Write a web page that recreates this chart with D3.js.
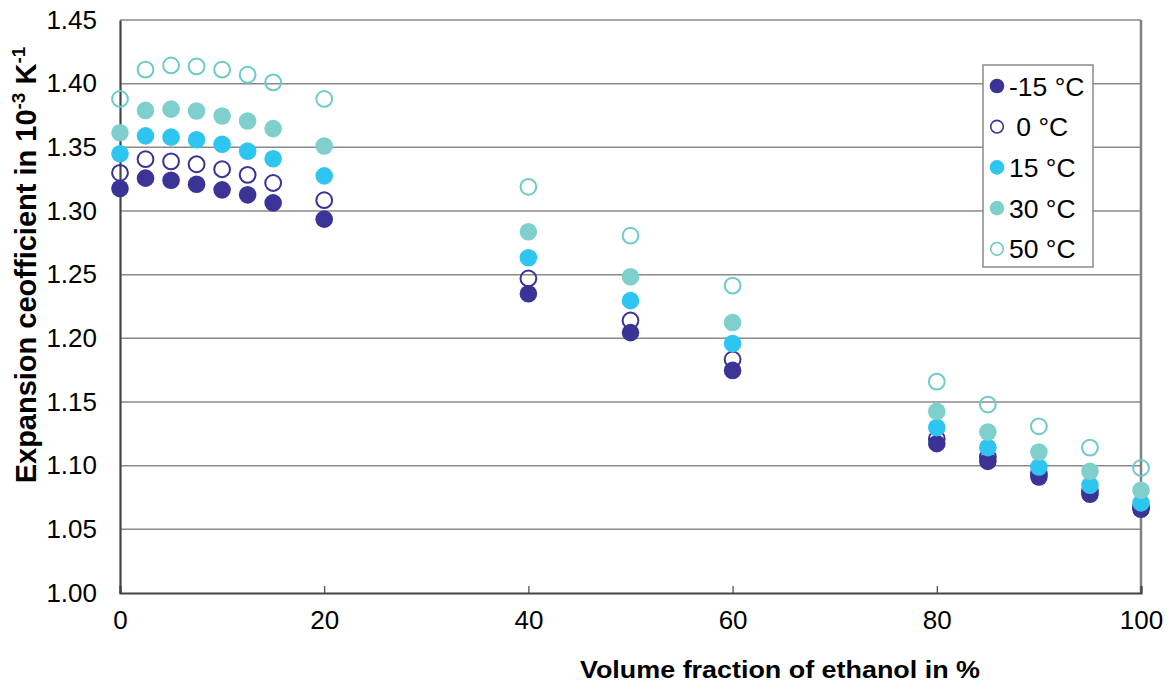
<!DOCTYPE html>
<html><head><meta charset="utf-8">
<script src="https://cdn.jsdelivr.net/npm/d3@7"></script>
<style>body{margin:0;background:#fff}svg{display:block}text{font-family:"Liberation Sans",Arial,sans-serif;fill:#000}</style>
</head><body>
<svg id="c" width="1171" height="684"></svg>
<script>
const xValues = [0, 2.5, 5, 7.5, 10, 12.5, 15, 20, 40, 50, 60, 80, 85, 90, 95, 100];
const tMinus15 = [1.3176,1.3258,1.3242,1.3210,1.3166,1.3127,1.3064,1.2936,1.2350,1.2045,1.1748,1.1173,1.1034,1.0911,1.0776,1.0658];
const t0 =       [1.3300,1.3407,1.3390,1.3367,1.3328,1.3284,1.3220,1.3085,1.2470,1.2140,1.1834,1.1212,1.1068,1.0938,1.0799,1.0676];
const t15 =      [1.3450,1.3590,1.3580,1.3560,1.3524,1.3470,1.3410,1.3276,1.2633,1.2296,1.1960,1.1299,1.1142,1.0990,1.0846,1.0708];
const t30 =      [1.3615,1.3790,1.3800,1.3785,1.3746,1.3707,1.3647,1.3510,1.2837,1.2484,1.2124,1.1426,1.1264,1.1107,1.0956,1.0807];
const t50 =      [1.3880,1.4110,1.4143,1.4136,1.4110,1.4070,1.4010,1.3880,1.3190,1.2806,1.2414,1.1660,1.1480,1.1309,1.1142,1.0982];
const seriesNames = ["-15 °C", " 0 °C", "15 °C", "30 °C", "50 °C"];
const xTicks = [0, 20, 40, 60, 80, 100];
const yTicks = [1.00,1.05,1.10,1.15,1.20,1.25,1.30,1.35,1.40,1.45];

const series = [
  {name: seriesNames[0], values: tMinus15, color: "#3b3396", filled: true},
  {name: seriesNames[1], values: t0, color: "#3b3396", filled: false},
  {name: seriesNames[2], values: t15, color: "#2ec5f0", filled: true},
  {name: seriesNames[3], values: t30, color: "#7fcfcc", filled: true},
  {name: seriesNames[4], values: t50, color: "#6ccbca", filled: false}
];

const svg = d3.select("#c");
const L = 120, R = 1141, T = 20, B = 593;
const x = d3.scaleLinear().domain([0, 100]).range([L, R]);
const y = d3.scaleLinear().domain([1.00, 1.45]).range([B, T]);

// gridlines
svg.append("g").selectAll("line").data(yTicks.slice(1)).join("line")
  .attr("x1", L).attr("x2", R).attr("y1", d => y(d)).attr("y2", d => y(d))
  .attr("stroke", "#8a8a8a").attr("stroke-width", 1.5);
// right border
svg.append("line").attr("x1", R).attr("x2", R).attr("y1", T).attr("y2", B)
  .attr("stroke", "#808080").attr("stroke-width", 2.5);

// y axis
const yAxis = svg.append("g").attr("transform", `translate(${L},0)`)
  .call(d3.axisLeft(y).tickValues(yTicks).tickFormat(d3.format(".2f")).tickSize(0).tickPadding(23));
yAxis.select(".domain").attr("stroke", "#444").attr("stroke-width", 2.2);
yAxis.selectAll("text").attr("font-size", 26).style("font-family", '"Liberation Sans",Arial,sans-serif').attr("fill", "#000");

// x axis
const xAxis = svg.append("g").attr("transform", `translate(0,${B})`)
  .call(d3.axisBottom(x).tickValues(xTicks).tickFormat(d3.format("d")).tickSize(-7).tickPadding(18));
xAxis.select(".domain").attr("stroke", "#444").attr("stroke-width", 2.2);
xAxis.selectAll(".tick line").attr("stroke", "#444").attr("stroke-width", 1.2);
xAxis.selectAll("text").attr("font-size", 26).style("font-family", '"Liberation Sans",Arial,sans-serif').attr("fill", "#000");

// points
const r = 8.8;
series.forEach(s => {
  svg.append("g").selectAll("circle").data(xValues.map((xv, i) => [xv, s.values[i]])).join("circle")
    .attr("cx", d => x(d[0])).attr("cy", d => y(d[1])).attr("r", s.filled ? r : r - 0.9)
    .attr("fill", s.filled ? s.color : "none")
    .attr("stroke", s.filled ? "none" : s.color).attr("stroke-width", s.filled ? 0 : 2);
});

// legend
const lg = svg.append("g");
lg.append("rect").attr("x", 983).attr("y", 65).attr("width", 110).attr("height", 202)
  .attr("fill", "#fff").attr("stroke", "#8a8a8a").attr("stroke-width", 1.5);
series.forEach((s, i) => {
  const cy = 86 + i * 40.7;
  lg.append("circle").attr("cx", 997).attr("cy", cy).attr("r", s.filled ? 7.3 : 6.3)
    .attr("fill", s.filled ? s.color : "none")
    .attr("stroke", s.filled ? "none" : s.color).attr("stroke-width", s.filled ? 0 : 1.6);
  lg.append("text").attr("x", 1009).attr("y", cy).attr("dy", "0.36em")
    .attr("font-size", 26.5).style("white-space", "pre").text(s.name);
});

// axis titles
svg.append("text").attr("x", 780).attr("y", 678).attr("text-anchor", "middle")
  .attr("font-size", 24).attr("font-weight", "bold")
  .attr("textLength", 400).attr("lengthAdjust", "spacingAndGlyphs")
  .text("Volume fraction of ethanol in %");

const yt = svg.append("text").attr("transform", "translate(36,265) rotate(-90)")
  .attr("text-anchor", "middle").attr("font-size", 29).attr("font-weight", "bold");
yt.append("tspan").text("Expansion ceofficient in 10");
yt.append("tspan").attr("font-size", 19).attr("dy", -11).text("-3");
yt.append("tspan").attr("dy", 11).text(" K");
yt.append("tspan").attr("font-size", 19).attr("dy", -11).text("-1");
</script>
</body></html>
